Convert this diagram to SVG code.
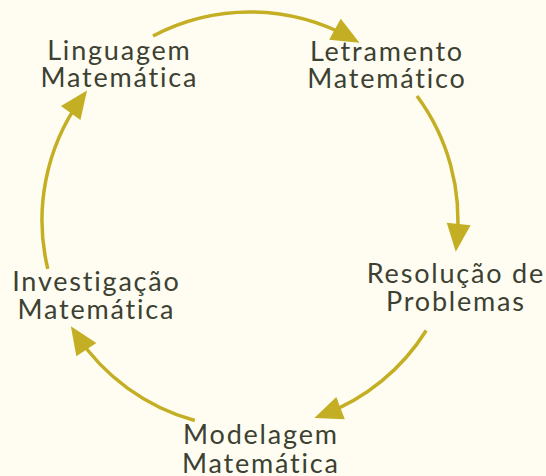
<svg xmlns="http://www.w3.org/2000/svg" width="546" height="476" viewBox="0 0 546 476">
<style>
.bg{fill:#fffdf1}
.lbl{font-family:Lato,"Open Sans","Liberation Sans",sans-serif;font-size:27px;letter-spacing:1.8px;font-variant-ligatures:none;fill:#3c4132;text-anchor:middle}
.arc{fill:none;stroke:#c3ae24;stroke-width:3.5}
</style>
<defs>
<marker id="ah" markerUnits="userSpaceOnUse" viewBox="0 0 28 24" markerWidth="28" markerHeight="24" refX="18" refY="12" orient="auto" overflow="visible">
<path d="M0,0 L28,12 L0,24 z" fill="#c3ae24"/>
</marker>
</defs>
<rect class="bg" x="0" y="0" width="546" height="476"/>
<g id="connectors">
<path class="arc" d="M153,36 A208,208 0 0 1 350.7,38" marker-end="url(#ah)"/>
<path class="arc" d="M417,96 A208,208 0 0 1 456.8,241.9" marker-end="url(#ah)"/>
<path class="arc" d="M426.2,330.5 A208,208 0 0 1 323.7,414.5" marker-end="url(#ah)"/>
<path class="arc" d="M194.8,420.5 A208,208 0 0 1 76.4,334.6" marker-end="url(#ah)"/>
<path class="arc" d="M47.8,268.9 A208,208 0 0 1 81.2,98.5" marker-end="url(#ah)"/>
</g>
<g id="node-linguagem"><text class="lbl" x="119.4" y="59.5">Linguagem</text><text class="lbl" x="119.4" y="87">Matemática</text></g>
<g id="node-letramento"><text class="lbl" x="386.9" y="60.5">Letramento</text><text class="lbl" x="386.9" y="88">Matemático</text></g>
<g id="node-resolucao"><text class="lbl" x="455.9" y="282.7">Resolução de</text><text class="lbl" x="455.9" y="311">Problemas</text></g>
<g id="node-modelagem"><text class="lbl" x="260.9" y="444.3">Modelagem</text><text class="lbl" x="260.9" y="472.5">Matemática</text></g>
<g id="node-investigacao"><text class="lbl" x="96.4" y="291">Investigação</text><text class="lbl" x="96.4" y="319">Matemática</text></g>
</svg>
